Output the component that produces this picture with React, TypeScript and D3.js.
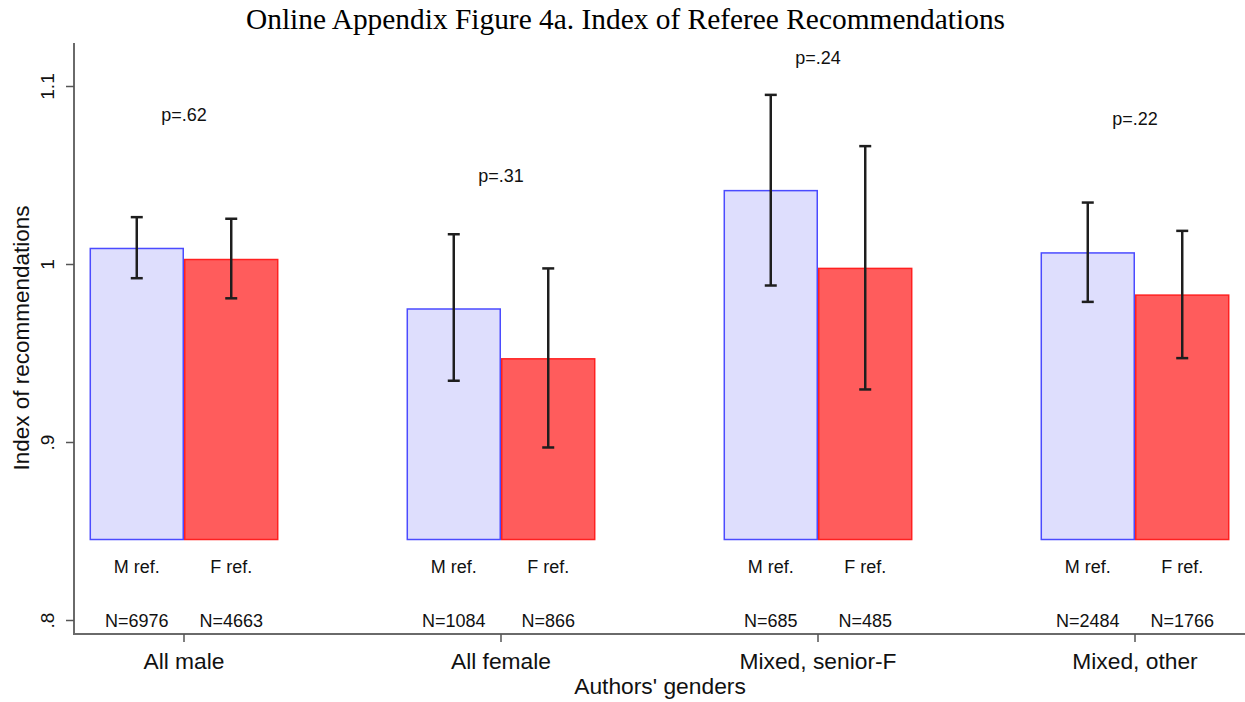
import React from "react";
import * as d3 from "d3";

const groups = ["All male", "All female", "Mixed, senior-F", "Mixed, other"];
const mMeans = [1.009, 0.975, 1.0415, 1.0065];
const fMeans = [1.0028, 0.947, 0.9978, 0.9828];
const mLo = [0.9923, 0.9347, 0.9882, 0.979];
const mHi = [1.0266, 1.017, 1.0953, 1.0348];
const fLo = [0.981, 0.8972, 0.9298, 0.9474];
const fHi = [1.0257, 0.9978, 1.0665, 1.0189];
const mN = [6976, 1084, 685, 2484];
const fN = [4663, 866, 485, 1766];
const pValues = [".62", ".31", ".24", ".22"];
const pLabelPos = [1.084, 1.05, 1.116, 1.082];
const yTicks = [0.8, 0.9, 1, 1.1];
const yTickLabels = [".8", ".9", "1", "1.1"];
const barBase = 0.8455;

const W = 1245;
const H = 702;
const SANS = "'Liberation Sans', Arial, Helvetica, sans-serif";
const SERIF = "'Liberation Serif', 'Times New Roman', serif";

export default function App() {
  const axisX = 74;
  const axisY = 634;
  const x = d3.scalePoint<string>().domain(groups).range([axisX, W]).padding(0.347);
  const step = x.step();
  const bw = step * 0.298;
  const y = d3.scaleLinear().domain([0.8, 1.1]).range([620.5, 86.5]);
  const yTop = y.invert(43);
  const cap = 6;

  const series = [
    { means: mMeans, lo: mLo, hi: mHi, n: mN, label: "M ref.", fill: "#dedefd", stroke: "#4b4bff", off: -1 },
    { means: fMeans, lo: fLo, hi: fHi, n: fN, label: "F ref.", fill: "#ff5c5c", stroke: "#ff2020", off: 0 },
  ];

  return (
    <svg width={W} height={H} style={{ position: "absolute", left: 0, top: 0, display: "block", background: "#fff" }}>
      <text x={625.5} y={29} textAnchor="middle" fontFamily={SERIF} fontSize={29.4} fill="#000">
        Online Appendix Figure 4a. Index of Referee Recommendations
      </text>

      {series.map((s, si) =>
        groups.map((g, i) => {
          const cx = x(g)!;
          const x0 = cx + s.off * bw;
          const top = y(s.means[i]);
          const bot = y(barBase);
          return (
            <rect
              key={`b${si}-${i}`}
              x={x0 + 0.75}
              y={top}
              width={bw - 1.5}
              height={bot - top}
              fill={s.fill}
              stroke={s.stroke}
              strokeWidth={1.5}
            />
          );
        })
      )}

      {series.map((s, si) =>
        groups.map((g, i) => {
          const ex = x(g)! + s.off * bw + bw / 2;
          const y1 = y(s.hi[i]);
          const y2 = y(s.lo[i]);
          return (
            <g key={`e${si}-${i}`} stroke="#1e1e1e" strokeWidth={2.5}>
              <line x1={ex} x2={ex} y1={y1} y2={y2} />
              <line x1={ex - cap} x2={ex + cap} y1={y1} y2={y1} />
              <line x1={ex - cap} x2={ex + cap} y1={y2} y2={y2} />
            </g>
          );
        })
      )}

      {series.map((s, si) =>
        groups.map((g, i) => {
          const cx = x(g)! + s.off * bw + bw / 2;
          return (
            <g key={`l${si}-${i}`} fontFamily={SANS} fontSize={18} fill="#111" textAnchor="middle">
              <text x={cx} y={573}>{s.label}</text>
              <text x={cx} y={627}>{`N=${s.n[i]}`}</text>
            </g>
          );
        })
      )}

      {groups.map((g, i) => (
        <text key={`p${i}`} x={x(g)!} y={y(pLabelPos[i]) + 6} textAnchor="middle" fontFamily={SANS} fontSize={18} fill="#111">
          {`p=${pValues[i]}`}
        </text>
      ))}

      {/* y axis */}
      <line x1={axisX} x2={axisX} y1={y(yTop)} y2={axisY + 1} stroke="#6a6a6a" strokeWidth={2} />
      {yTicks.map((t, i) => (
        <g key={`yt${i}`}>
          <line x1={axisX - 8} x2={axisX} y1={y(t)} y2={y(t)} stroke="#555" strokeWidth={1.5} />
          <text
            transform={`translate(${axisX - 20},${y(t)}) rotate(-90)`}
            textAnchor="middle"
            fontFamily={SANS}
            fontSize={19}
            fill="#111"
          >
            {yTickLabels[i]}
          </text>
        </g>
      ))}
      <text
        transform={`translate(29,338) rotate(-90)`}
        textAnchor="middle"
        fontFamily={SANS}
        fontSize={22.5}
        fill="#111"
      >
        Index of recommendations
      </text>

      {/* x axis */}
      <line x1={axisX - 1} x2={W} y1={axisY} y2={axisY} stroke="#6a6a6a" strokeWidth={2} />
      {groups.map((g, i) => (
        <g key={`xt${i}`}>
          <line x1={x(g)!} x2={x(g)!} y1={axisY} y2={axisY + 8} stroke="#555" strokeWidth={1.5} />
          <text x={x(g)!} y={669} textAnchor="middle" fontFamily={SANS} fontSize={22.8} fill="#111">
            {g}
          </text>
        </g>
      ))}
      <text x={660} y={694} textAnchor="middle" fontFamily={SANS} fontSize={22.8} fill="#111">
        Authors' genders
      </text>
    </svg>
  );
}
